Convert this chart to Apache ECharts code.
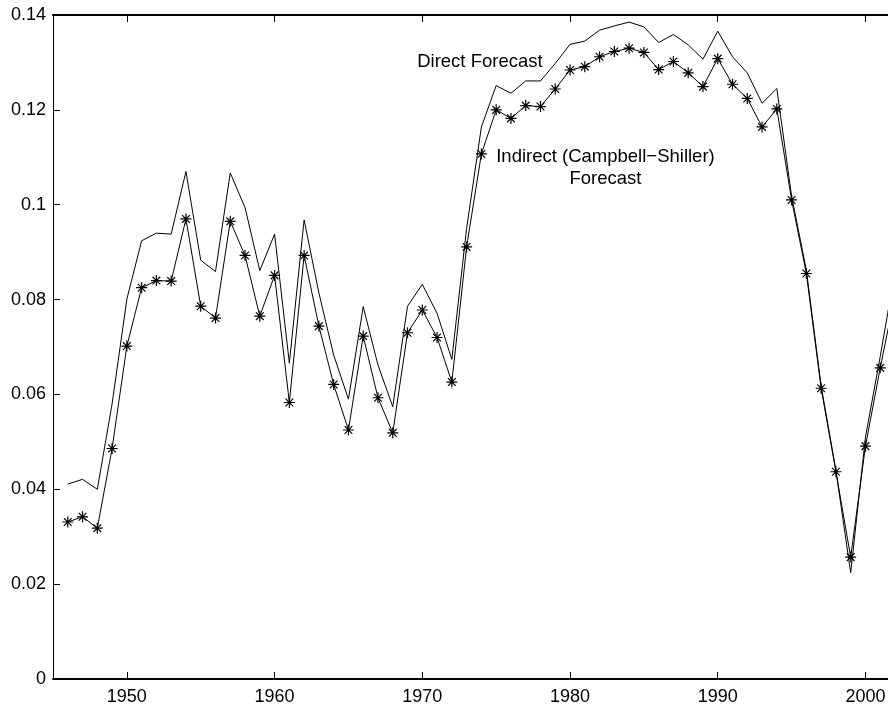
<!DOCTYPE html>
<html>
<head>
<meta charset="utf-8">
<script src="https://cdn.jsdelivr.net/npm/echarts@6/dist/echarts.min.js"></script>
<style>
html,body{margin:0;padding:0;background:#fff;}
#chart{width:888px;height:707px;}
</style>
</head>
<body>
<div id="chart"></div>
<script>
const years = [1946,1947,1948,1949,1950,1951,1952,1953,1954,1955,1956,1957,1958,1959,1960,1961,1962,1963,1964,1965,1966,1967,1968,1969,1970,1971,1972,1973,1974,1975,1976,1977,1978,1979,1980,1981,1982,1983,1984,1985,1986,1987,1988,1989,1990,1991,1992,1993,1994,1995,1996,1997,1998,1999,2000,2001,2002];
const directForecast = [0.0411,0.0421,0.0400,0.058,0.0801,0.0924,0.0940,0.0938,0.1070,0.0883,0.0859,0.1067,0.0994,0.0861,0.0938,0.0666,0.0968,0.0814,0.0683,0.0590,0.0785,0.0662,0.0574,0.0786,0.0832,0.0771,0.0674,0.095,0.1164,0.1251,0.1235,0.1261,0.1261,0.1298,0.1338,0.1345,0.1368,0.1377,0.1385,0.1375,0.1342,0.1359,0.1337,0.1307,0.1366,0.1312,0.1278,0.1214,0.1245,0.1018,0.0862,0.0618,0.0440,0.0224,0.0510,0.0680,0.0860];
const indirectForecast = [0.0331,0.0342,0.0318,0.0486,0.0702,0.0825,0.0840,0.0839,0.0970,0.0786,0.0761,0.0965,0.0893,0.0765,0.0851,0.0583,0.0893,0.0744,0.0621,0.0525,0.0723,0.0593,0.0519,0.0730,0.0778,0.0720,0.0626,0.0911,0.1107,0.1200,0.1182,0.1209,0.1207,0.1244,0.1284,0.1291,0.1312,0.1323,0.1330,0.1321,0.1285,0.1302,0.1278,0.1249,0.1308,0.1254,0.1224,0.1164,0.1202,0.1010,0.0855,0.0613,0.0437,0.0257,0.0491,0.0656,0.0810];
const xTicks = [1950,1960,1970,1980,1990,2000];
const yTicks = [0,0.02,0.04,0.06,0.08,0.1,0.12,0.14];
const labelDirect = {text:'Direct Forecast', x:1973.9, y:0.1301};
const labelIndirect = {text:'Indirect (Campbell\u2212Shiller)\nForecast', x:1982.4, y:0.1077};

const FONT = '"Liberation Sans", Arial, Helvetica, sans-serif';
const chart = echarts.init(document.getElementById('chart'), null, {renderer:'canvas'});
const star = 'path://M0,5L10,5M5,0L5,10M1.5,1.5L8.5,8.5M8.5,1.5L1.5,8.5';

const fmtY = v => String(parseFloat(v.toFixed(2)));

const option = {
  backgroundColor:'#fff',
  animation:false,
  grid:{left:53, right:-7, top:15, bottom:28, containLabel:false, outerBoundsMode:'none'},
  xAxis:[{
    type:'value', min:1945, max:2002, position:'bottom',
    axisLine:{show:true, onZero:false, lineStyle:{color:'#000', width:2}},
    axisTick:{show:true, inside:true, length:7, customValues:xTicks, lineStyle:{color:'#000', width:1}},
    axisLabel:{show:true, customValues:xTicks, color:'#000', fontFamily:FONT, fontSize:18, margin:9, formatter:v=>String(v)},
    splitLine:{show:false}
  },{
    type:'value', min:1945, max:2002, position:'top',
    axisLine:{show:true, onZero:false, lineStyle:{color:'#000', width:2}},
    axisTick:{show:true, inside:true, length:7, customValues:xTicks, lineStyle:{color:'#000', width:1}},
    axisLabel:{show:false},
    splitLine:{show:false}
  }],
  yAxis:[{
    type:'value', min:0, max:0.14, interval:0.02, position:'left',
    axisLine:{show:true, onZero:false, lineStyle:{color:'#000', width:1}},
    axisTick:{show:true, inside:true, length:7, lineStyle:{color:'#000', width:1}},
    axisLabel:{show:true, color:'#000', fontFamily:FONT, fontSize:18, margin:7, formatter:fmtY},
    splitLine:{show:false}
  },{
    type:'value', min:0, max:0.14, interval:0.02, position:'right',
    axisLine:{show:true, onZero:false, lineStyle:{color:'#000', width:1}},
    axisTick:{show:true, inside:true, length:7, lineStyle:{color:'#000', width:1}},
    axisLabel:{show:false},
    splitLine:{show:false}
  }],
  series:[{
    name:'Direct Forecast', type:'line', xAxisIndex:0, yAxisIndex:0,
    data: years.map((y,i)=>[y, directForecast[i]]),
    showSymbol:false, symbol:'none',
    lineStyle:{color:'#000', width:1}
  },{
    name:'Indirect (Campbell-Shiller) Forecast', type:'line', xAxisIndex:0, yAxisIndex:0,
    data: years.map((y,i)=>[y, indirectForecast[i]]),
    symbol: star, symbolSize:11, showAllSymbol:true,
    itemStyle:{color:'transparent', borderColor:'#000', borderWidth:1.2},
    lineStyle:{color:'#000', width:1}
  }]
};
chart.setOption(option);

function place(lbl){
  const p = chart.convertToPixel({xAxisIndex:0, yAxisIndex:0}, [lbl.x, lbl.y]);
  return {
    type:'text', x:p[0], y:p[1], silent:true,
    style:{text:lbl.text, fill:'#000', font:'18.5px ' + FONT, align:'center', verticalAlign:'middle', lineHeight:22}
  };
}
chart.setOption({graphic:[place(labelDirect), place(labelIndirect)]});
</script>
</body>
</html>
